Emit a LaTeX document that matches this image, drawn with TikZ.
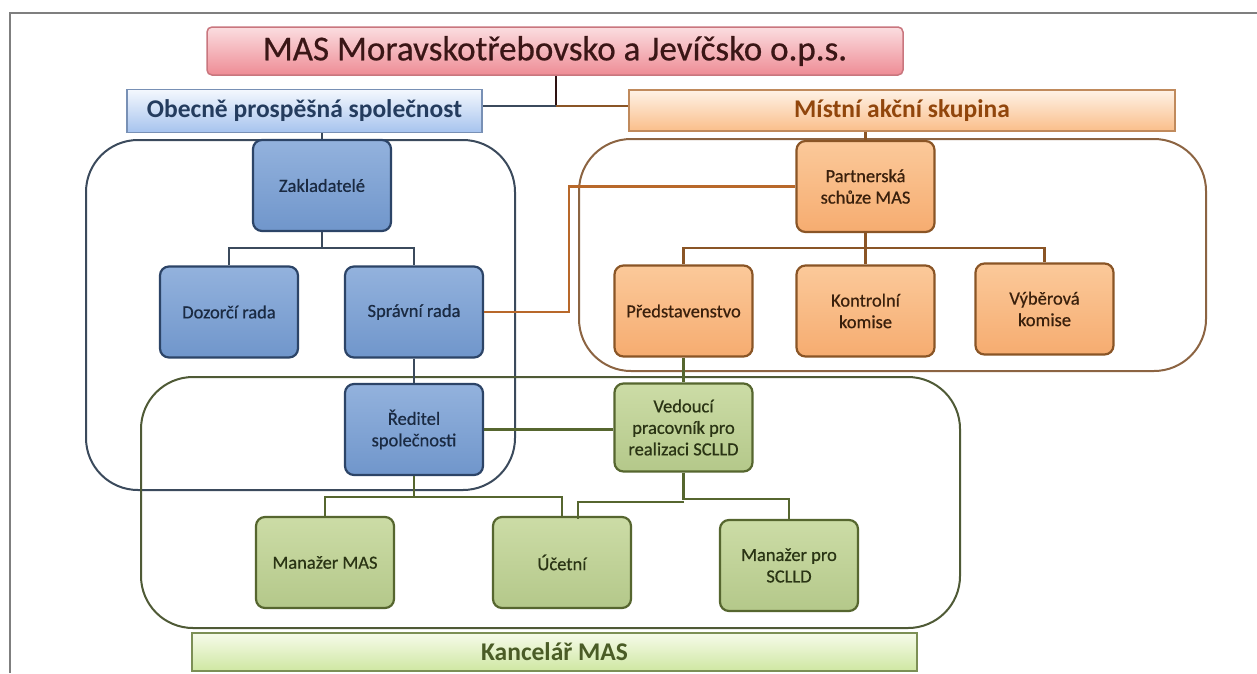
\documentclass[tikz,border=0pt]{standalone}
\usepackage{fontspec}
\setmainfont{Carlito}
\newfontfamily\semibold[FakeBold=0.6]{Carlito}
\usetikzlibrary{calc}
\definecolor{bluefillT}{HTML}{93B2DD}
\definecolor{bluefillB}{HTML}{7096CB}
\definecolor{bluedraw}{HTML}{2C4467}
\definecolor{bluetext}{HTML}{1A2A42}
\definecolor{orfillT}{HTML}{FBC99A}
\definecolor{orfillB}{HTML}{F6AC70}
\definecolor{ordraw}{HTML}{8A5526}
\definecolor{ortext}{HTML}{3A200C}
\definecolor{grfillT}{HTML}{CCDCA6}
\definecolor{grfillB}{HTML}{B4C88A}
\definecolor{grdraw}{HTML}{56662F}
\definecolor{grtext}{HTML}{2A3414}
\definecolor{framegray}{HTML}{7F7F7F}
\definecolor{bluegroup}{HTML}{3B4A5C}
\definecolor{orgroup}{HTML}{8C6442}
\definecolor{grgroup}{HTML}{4F5A36}
\definecolor{orlink}{HTML}{B8682A}
\definecolor{titleT}{HTML}{FBDDE0}
\definecolor{titleB}{HTML}{EE8C95}
\definecolor{titledraw}{HTML}{C9767E}
\definecolor{titletext}{HTML}{3A1616}
\definecolor{obecT}{HTML}{F4F8FE}
\definecolor{obecB}{HTML}{A6C3EE}
\definecolor{obecdraw}{HTML}{7890B5}
\definecolor{obectext}{HTML}{243C5E}
\definecolor{mistT}{HTML}{FEF2E6}
\definecolor{mistB}{HTML}{FABE8A}
\definecolor{mistdraw}{HTML}{C08A5C}
\definecolor{misttext}{HTML}{91460C}
\definecolor{kancT}{HTML}{F6FBEA}
\definecolor{kancB}{HTML}{CFE7A2}
\definecolor{kancdraw}{HTML}{7C8F55}
\definecolor{kanctext}{HTML}{4A5C26}
\tikzset{
  unitbox/.style={rectangle, rounded corners=9pt, line width=2.2pt, minimum width=138pt, minimum height=91pt, inner sep=2pt, align=center, font=\semibold\fontsize{18.5}{21.5}\selectfont},
  bluebox/.style={unitbox, draw=bluedraw, top color=bluefillT, bottom color=bluefillB, text=bluetext},
  orbox/.style={unitbox, draw=ordraw, top color=orfillT, bottom color=orfillB, text=ortext},
  grbox/.style={unitbox, draw=grdraw, top color=grfillT, bottom color=grfillB, text=grtext},
  banner/.style={rectangle, line width=1.5pt, inner sep=0pt, font=\bfseries\fontsize{25.5}{28}\selectfont},
  grp/.style={rounded corners=52pt, line width=2pt},
  bluelink/.style={draw=bluegroup, line width=2.4pt},
  orline/.style={draw=ordraw, line width=2.4pt},
  grline/.style={draw=grdraw, line width=2.4pt},
}
\begin{document}
\begin{tikzpicture}[x=1pt,y=-1pt]
\useasboundingbox (0,0) rectangle (1257,673);
\fill[white] (0,0) rectangle (1257,673);
\draw[framegray, line width=2pt] (10,673) -- (10,13) -- (1257,13);

% groups
\draw[grp, draw=bluegroup] (86,140) rectangle (515,490);
\draw[grp, draw=orgroup] (579,139) rectangle (1206,371);
\draw[grp, draw=grgroup] (141,377) rectangle (960,628);

% banners
\node[banner, draw=titledraw, top color=titleT, bottom color=titleB, text=titletext, rounded corners=5pt, minimum width=696pt, minimum height=48pt, font=\semibold\fontsize{35}{38}\selectfont] (title) at (555,51) {MAS Moravskotřebovsko a Jevíčsko o.p.s.};
\node[banner, draw=obecdraw, top color=obecT, bottom color=obecB, text=obectext, minimum width=355pt, minimum height=43pt] (obec) at (304.5,111) {Obecně prospěšná společnost};
\node[banner, draw=mistdraw, top color=mistT, bottom color=mistB, text=misttext, minimum width=546pt, minimum height=41pt] (mist) at (902,110.5) {Místní akční skupina};
\node[banner, draw=kancdraw, top color=kancT, bottom color=kancB, text=kanctext, minimum width=725pt, minimum height=38pt] (kanc) at (554.5,652) {Kancelář MAS};

% boxes
\node[bluebox] (zakl) at (322,185.5) {Zakladatelé};
\node[bluebox] (dozor) at (229,312) {Dozorčí rada};
\node[bluebox] (sprav) at (414,312) {Správní rada};
\node[bluebox] (redit) at (414,429.5) {Ředitel\\společnosti};
\node[orbox] (partn) at (865.5,186.5) {Partnerská\\schůze MAS};
\node[orbox] (pred) at (683.5,311) {Představenstvo};
\node[orbox] (kontr) at (865.5,311) {Kontrolní\\komise};
\node[orbox] (vyber) at (1044.5,309) {Výběrová\\komise};
\node[grbox, minimum height=88pt] (vedo) at (683.5,427.5) {Vedoucí\\pracovník pro\\realizaci SCLLD};
\node[grbox] (manmas) at (325,562.5) {Manažer MAS};
\node[grbox] (ucet) at (562,562.5) {Účetní};
\node[grbox] (manscl) at (789,565.5) {Manažer pro\\SCLLD};

% junction coordinates
\coordinate (j1) at (556,106);
\coordinate (b1) at (322,248);
\coordinate (o1) at (569,312);
\coordinate (b2) at (865.5,248);
\coordinate (b3) at (414,497);
\coordinate (b4) at (683.5,499);
\coordinate (b5) at (683.5,502);
\coordinate (u2) at (578,519);

% connectors
\draw[draw=titletext!80!black, line width=2.2pt] (title.south -| j1) -- (j1);
\draw[draw=bluegroup, line width=2.2pt] (obec.east |- j1) -- (j1);
\draw[draw=ordraw, line width=2.2pt] (j1) -- (mist.west |- j1);
\draw[bluelink] (zakl.north |- obec.south) -- (zakl.north);
\draw[bluelink] (zakl.south) -- (b1);
\draw[bluelink] (dozor.north) |- (b1) -| (sprav.north);
\draw[bluelink] (sprav.south) -- (redit.north);
\draw[draw=orlink, line width=2.4pt] (sprav.east) -- (o1) -- (o1 |- partn.west) -- (partn.west);
\draw[orline] (partn.north |- mist.south) -- (partn.north);
\draw[orline] (partn.south) -- (b2);
\draw[orline] (pred.north) |- (b2) -| (vyber.north);
\draw[orline] (b2) -- (kontr.north);
\draw[grline] (pred.south) -- (vedo.north);
\draw[grline] (redit.east) -- (redit.east -| vedo.west);
\draw[grline] (redit.south) -- (b3);
\draw[grline] (manmas.north) |- (b3) -| (ucet.north);
\draw[grline] (vedo.south) -- (b4) -| (manscl.north);
\draw[grline] (b5) -| (u2);
\end{tikzpicture}
\end{document}
